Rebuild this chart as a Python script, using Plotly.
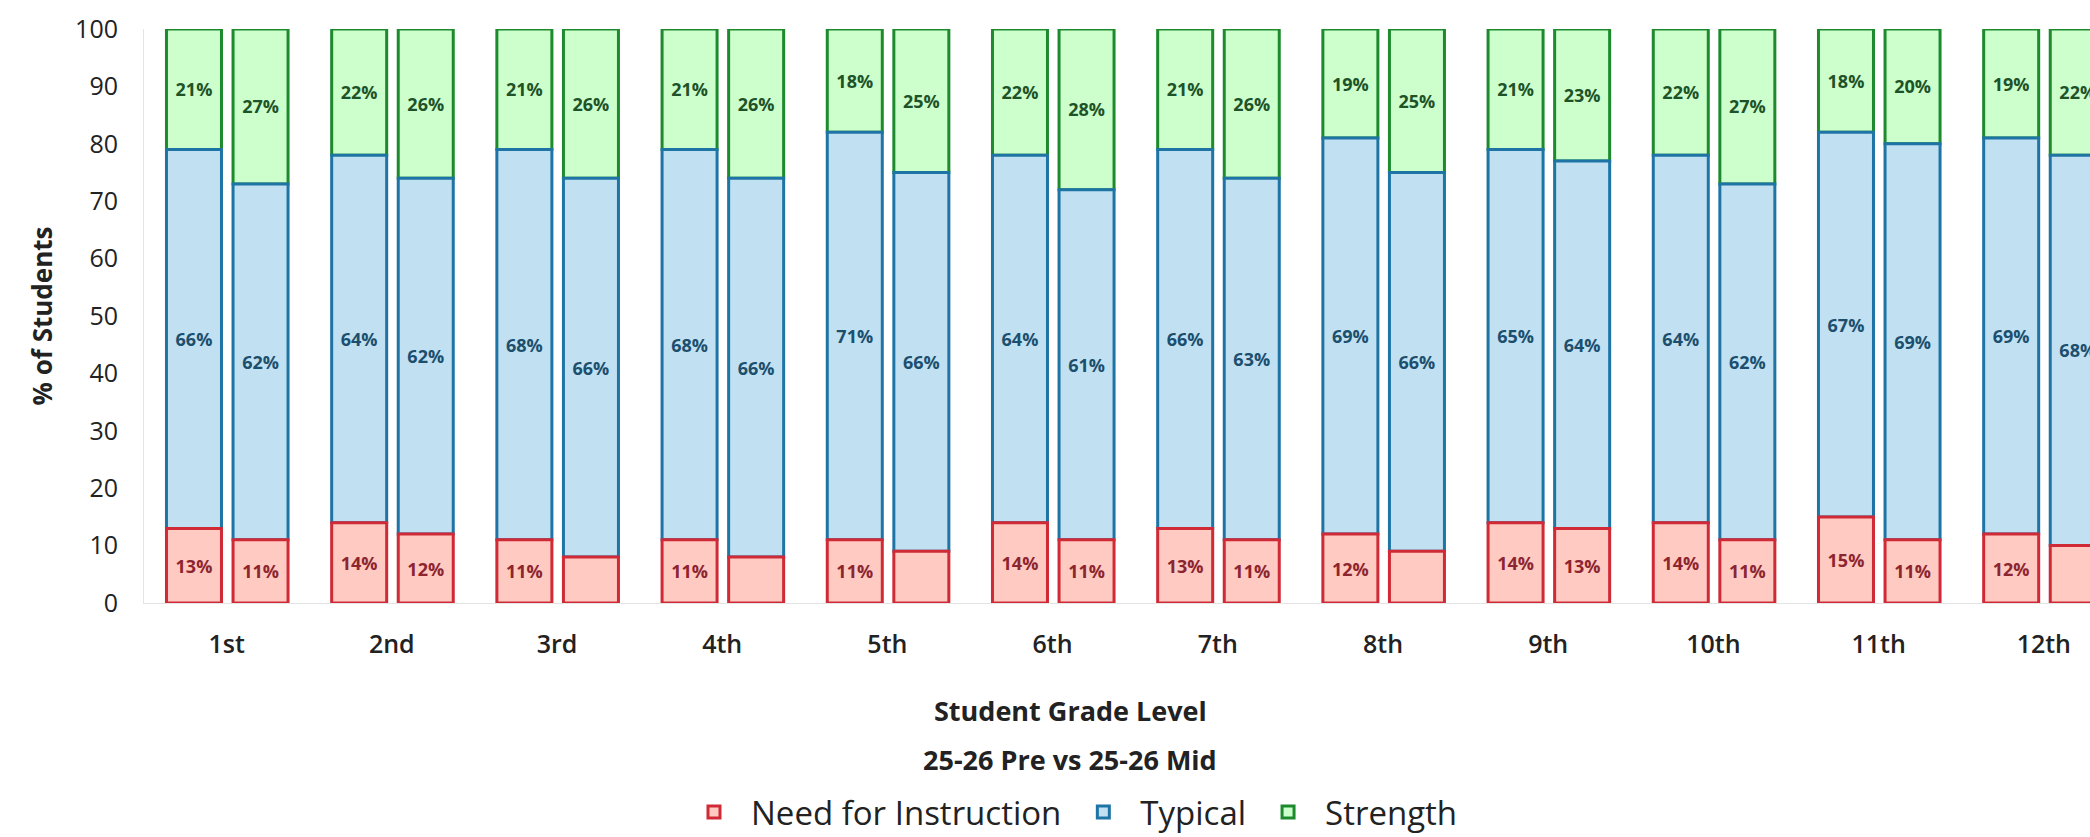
import plotly.graph_objects as go

# ---------------- data ----------------
grades = ["1st", "2nd", "3rd", "4th", "5th", "6th", "7th", "8th", "9th", "10th", "11th", "12th"]

pre_need = [13, 14, 11, 11, 11, 14, 13, 12, 14, 14, 15, 12]
pre_typical = [66, 64, 68, 68, 71, 64, 66, 69, 65, 64, 67, 69]
pre_strength = [21, 22, 21, 21, 18, 22, 21, 19, 21, 22, 18, 19]

mid_need = [11, 12, 8, 8, 9, 11, 11, 9, 13, 11, 11, 10]
mid_typical = [62, 62, 66, 66, 66, 61, 63, 66, 64, 62, 69, 68]
mid_strength = [27, 26, 26, 26, 25, 28, 26, 25, 23, 27, 20, 22]

category_names = ["Need for Instruction", "Typical", "Strength"]
period_names = ["25-26 Pre", "25-26 Mid"]
x_title = "Student Grade Level"
subtitle = "25-26 Pre vs 25-26 Mid"
y_title = "% of Students"
y_ticks = list(range(0, 101, 10))

# ---------------- styles ----------------
FONT = "Open Sans"
fills = ["#ffcac2", "#c1e1f2", "#ccffcc"]
lines = ["#cf2a36", "#1f74a6", "#1e8a2e"]
text_colors = ["#8c2530", "#1c4f6e", "#1e5228"]
LABEL_MIN = 11  # segments smaller than this carry no label

W, H = 2090, 837
ML, MR, MT, MB = 144, 0, 29, 234
CAT_PX = 165.2
plot_w = W - ML - MR
plot_h = H - MT - MB
x_hi = -0.5 + plot_w / CAT_PX

BAR_W = 0.333
offsets = [-0.364, 0.039]

def px_to_paper_x(px):
    return (px - ML) / plot_w

def px_to_paper_y(py):
    return (H - MB - py) / plot_h

fig = go.Figure()

periods = [
    (pre_need, pre_typical, pre_strength),
    (mid_need, mid_typical, mid_strength),
]

for p_idx, series in enumerate(periods):
    bases = [
        [0] * len(grades),
        list(series[0]),
        [a + b for a, b in zip(series[0], series[1])],
    ]
    # draw top category first so lower segments' borders sit on top
    for c_idx in [2, 1, 0]:
        vals = series[c_idx]
        labels = [f"{v}%" if v >= LABEL_MIN else "" for v in vals]
        fig.add_trace(go.Bar(
            x=grades,
            y=vals,
            base=bases[c_idx],
            name=category_names[c_idx],
            legendgroup=category_names[c_idx],
            showlegend=(p_idx == 0),
            legendrank=c_idx + 1,
            offset=offsets[p_idx],
            width=BAR_W,
            marker=dict(color=fills[c_idx], line=dict(color=lines[c_idx], width=3)),
            text=labels,
            textposition="inside",
            insidetextanchor="middle",
            textangle=0,
            textfont=dict(family=FONT, size=18, color=text_colors[c_idx], weight=700),
            hovertemplate=period_names[p_idx] + " %{x}: %{y}%<extra>" + category_names[c_idx] + "</extra>",
            cliponaxis=True,
        ))

fig.update_layout(
    width=W,
    height=H,
    margin=dict(l=ML, r=MR, t=MT, b=MB, pad=0, autoexpand=False),
    barmode="overlay",
    plot_bgcolor="white",
    paper_bgcolor="white",
    font=dict(family=FONT, color="#222222"),
    xaxis=dict(
        type="category",
        range=[-0.5, x_hi],
        showgrid=False,
        showline=True,
        linecolor="#e4e4e4",
        linewidth=1,
        ticks="",
        tickfont=dict(family=FONT, size=25, color="#222222", weight=600),
        ticklabelstandoff=19,
        zeroline=False,
        automargin=False,
    ),
    yaxis=dict(
        range=[0, 100],
        tickvals=y_ticks,
        showgrid=False,
        showline=True,
        linecolor="#e4e4e4",
        linewidth=1,
        ticks="",
        tickfont=dict(family=FONT, size=25, color="#222222", weight=500),
        ticklabelstandoff=20,
        zeroline=False,
        automargin=False,
        title=dict(text=y_title, font=dict(family=FONT, size=26, color="#222222", weight=700), standoff=15),
    ),
    legend=dict(
        orientation="h",
        x=px_to_paper_x(1070),
        xanchor="center",
        y=px_to_paper_y(812),
        yanchor="middle",
        font=dict(family=FONT, size=33, color="#222222"),
        traceorder="normal",
        itemwidth=64,
        bgcolor="rgba(0,0,0,0)",
    ),
    annotations=[
        dict(text=x_title, xref="paper", yref="paper",
             x=px_to_paper_x(1070), y=px_to_paper_y(710),
             xanchor="center", yanchor="middle", showarrow=False,
             font=dict(family=FONT, size=27, color="#222222", weight=700)),
        dict(text=subtitle, xref="paper", yref="paper",
             x=px_to_paper_x(1070), y=px_to_paper_y(759),
             xanchor="center", yanchor="middle", showarrow=False,
             font=dict(family=FONT, size=27, color="#222222", weight=700)),
    ],
)

fig.write_html("out.html")
